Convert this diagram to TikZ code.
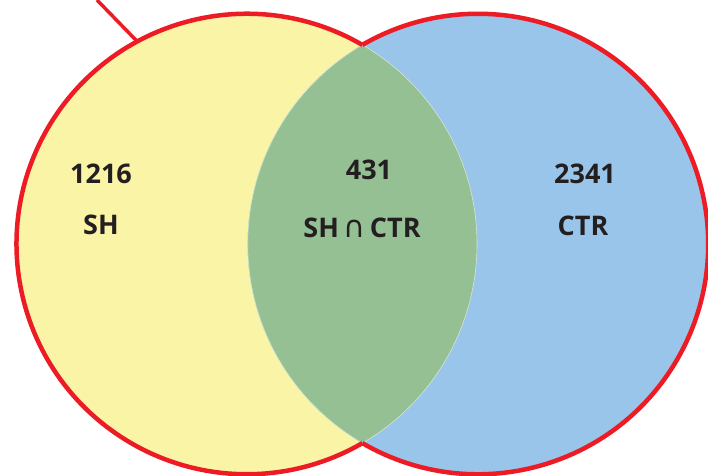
\documentclass[tikz,border=0pt]{standalone}
\usepackage{fontspec}
\setmainfont{Open Sans}
\newfontfamily\capfont{DejaVu Sans}
\usetikzlibrary{calc}
\definecolor{vyellow}{HTML}{F9F4A6}
\definecolor{vblue}{HTML}{98C5E9}
\definecolor{vgreen}{HTML}{95C093}
\definecolor{vred}{HTML}{ED1C24}
\definecolor{vtext}{HTML}{231F20}
\tikzset{
  lbl/.style={font=\fontsize{27}{31}\selectfont\bfseries, text=vtext, inner sep=0pt},
  outline/.style={draw=vred, line width=4.5pt},
  lensline/.style={draw=white!60!vgreen, line width=0.6pt}
}
\begin{document}
\begin{tikzpicture}[x=1pt,y=1pt]
\useasboundingbox (0,0) rectangle (708,475);
\coordinate (L) at (246.75,231);
\coordinate (R) at (477.95,231);
\def\rad{230.25}
\def\ang{59.86}
% fills
\fill[vyellow] (L) circle[radius=\rad];
\fill[vblue] (R) circle[radius=\rad];
\begin{scope}
  \clip (L) circle[radius=\rad];
  \fill[vgreen] (R) circle[radius=\rad];
\end{scope}
% lens boundary
\begin{scope}
  \clip (L) circle[radius=\rad];
  \draw[lensline] (R) circle[radius=\rad];
\end{scope}
\begin{scope}
  \clip (R) circle[radius=\rad];
  \draw[lensline] (L) circle[radius=\rad];
\end{scope}
% outer red outline
\draw[outline] ($(L)+(\ang:\rad)$) arc[start angle=\ang, end angle={360-\ang}, radius=\rad];
\draw[outline] ($(R)+({180+\ang}:\rad)$) arc[start angle={180+\ang}, end angle={540-\ang}, radius=\rad];
% pointer line
\coordinate (t) at ($(L)+(118.4:\rad)$);
\coordinate (tend) at (97,475);
\draw[draw=vred, line width=3.5pt] (t) -- (tend);
% labels
\node[lbl] (n1) at (101,301) {1216};
\node[lbl] (s1) at (101,250) {SH};
\node[lbl] (n2) at (369,305) {431};
\node[lbl] (s2) at (362,247) {SH\,{\capfont\mdseries\fontsize{30}{34}\selectfont ∩}\,CTR};
\node[lbl] (n3) at (585,301) {2341};
\node[lbl] (s3) at (583,249) {CTR};
\end{tikzpicture}
\end{document}
